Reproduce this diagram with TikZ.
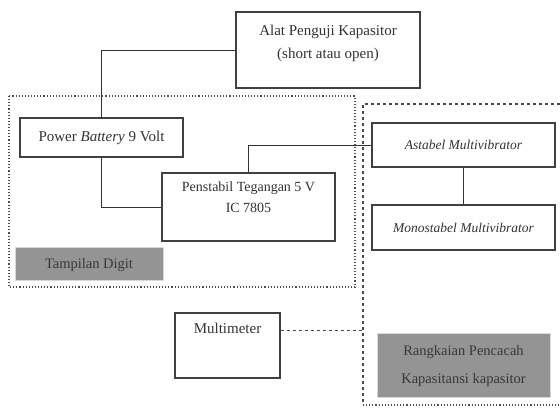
\documentclass[tikz,border=0pt]{standalone}
\usepackage{fontspec}
\setmainfont{Liberation Serif}
\begin{document}
\begin{tikzpicture}[x=1pt,y=-1pt,
  box/.style={draw=black!75,line width=1.1pt,fill=white,inner sep=0pt},
  graybox/.style={draw=black!15,line width=0.8pt,fill=black!42,inner sep=0pt},
  txt/.style={font=\fontsize{15}{23}\selectfont,text=black!80,align=center,inner sep=0pt},
  gtxt/.style={font=\fontsize{14.5}{28}\selectfont,text=black!78,align=center,inner sep=0pt},
  conn/.style={draw=black!80,line width=0.9pt},
  grp/.style={draw=black!70,line width=1.1pt,dotted},
  grpd/.style={draw=black!70,line width=1.1pt,dash pattern=on 3pt off 3pt}]
\useasboundingbox (0,0) rectangle (560,410);
\fill[white] (0,0) rectangle (560,410);
% group outlines
\draw[grp] (9,96) rectangle (355,287);
\draw[grpd] (560,104) -- (363,104) -- (363,405);
\draw[grp] (363,405) -- (560,405);
% boxes
\node[box,minimum width=184,minimum height=76] (alat) at (328,50) {};
\node[txt] (alatt) at (328,43.5) {Alat Penguji Kapasitor\\(short atau open)};
\node[box,minimum width=163,minimum height=39] (bat) at (101.5,137.5) {};
\node[txt] (batt) at (101.5,137.5) {Power \textit{Battery} 9 Volt};
\node[box,minimum width=173,minimum height=68] (pen) at (248.5,207) {};
\node[txt,font=\fontsize{14}{21}\selectfont] (pent) at (248.5,197.5) {Penstabil Tegangan 5 V\\IC 7805};
\node[graybox,minimum width=148,minimum height=33] (tam) at (89,263.5) {};
\node[gtxt] (tamt) at (89,265) {Tampilan Digit};
\node[box,minimum width=183,minimum height=44] (ast) at (463.5,145) {};
\node[txt,font=\fontsize{13.5}{20}\selectfont\itshape] (astt) at (463.5,145) {Astabel Multivibrator};
\node[box,minimum width=183,minimum height=45] (mono) at (463.5,227.5) {};
\node[txt,font=\fontsize{13.5}{20}\selectfont\itshape] (monot) at (463.5,227.5) {Monostabel Multivibrator};
\node[box,minimum width=105,minimum height=65] (mm) at (227.5,345.5) {};
\node[txt] (mmt) at (227.5,328) {Multimeter};
\node[graybox,minimum width=173,minimum height=64] (rang) at (463.5,365) {};
\node[gtxt] (rangt) at (463.5,366) {Rangkaian Pencacah\\Kapasitansi kapasitor};
% connectors
\coordinate (g1) at (363,330);
\draw[conn] (alat.west) -| (bat.north);
\draw[conn] (bat.south) |- (pen.west);
\draw[conn] (pen.north) |- (ast.west);
\draw[conn] (ast.south) -- (mono.north);
\draw[grpd,line width=0.9pt] (mm.east |- g1) -- (g1);
\end{tikzpicture}
\end{document}
